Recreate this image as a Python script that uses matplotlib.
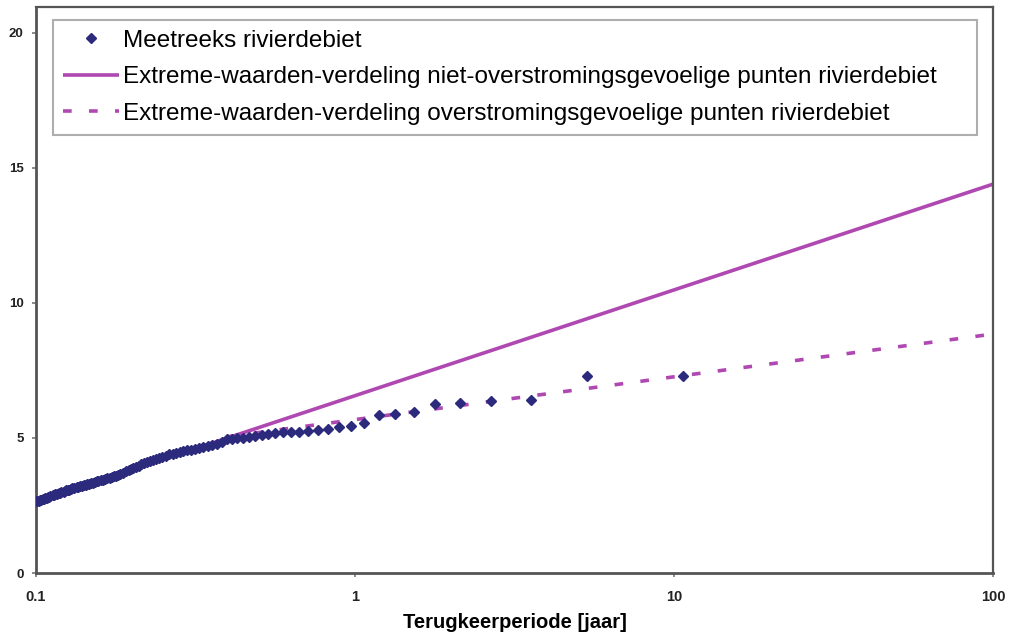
import matplotlib
matplotlib.use("Agg")
import matplotlib.pyplot as plt
from matplotlib.ticker import FixedLocator, NullLocator, FixedFormatter

plt.rcParams['font.family'] = ['Liberation Sans', 'DejaVu Sans']

# gemeten afvoer, gesorteerd op rang (terugkeerperiode in jaren)
terugkeer = [10.7, 5.35, 3.567, 2.675, 2.14, 1.783, 1.529, 1.338, 1.189, 1.07,
             0.973, 0.892, 0.823, 0.764, 0.713, 0.669, 0.629, 0.594, 0.563, 0.535,
             0.510, 0.486, 0.465, 0.446, 0.428, 0.412, 0.396, 0.382, 0.369, 0.357,
             0.345, 0.334, 0.324, 0.315, 0.306, 0.297, 0.289, 0.282, 0.274, 0.268,
             0.261, 0.255, 0.249, 0.243, 0.238, 0.233, 0.228, 0.223, 0.218, 0.214,
             0.210, 0.206, 0.202, 0.198, 0.195, 0.191, 0.188, 0.184, 0.181, 0.178,
             0.175, 0.173, 0.170, 0.167, 0.165, 0.162, 0.160, 0.157, 0.155, 0.153,
             0.151, 0.149, 0.147, 0.145, 0.143, 0.141, 0.139, 0.137, 0.135, 0.134,
             0.132, 0.130, 0.129, 0.127, 0.126, 0.124, 0.123, 0.122, 0.120, 0.119,
             0.118, 0.116, 0.115, 0.114, 0.113, 0.111, 0.110, 0.109, 0.108, 0.107,
             0.106, 0.105, 0.104, 0.103, 0.102, 0.101, 0.100]
debiet = [7.30, 7.30, 6.41, 6.37, 6.30, 6.26, 5.96, 5.89, 5.85, 5.54,
          5.43, 5.39, 5.35, 5.29, 5.27, 5.24, 5.22, 5.21, 5.19, 5.15,
          5.11, 5.06, 5.02, 5.00, 4.99, 4.97, 4.95, 4.85, 4.76, 4.74,
          4.71, 4.68, 4.64, 4.58, 4.56, 4.54, 4.51, 4.49, 4.46, 4.42,
          4.39, 4.35, 4.30, 4.26, 4.22, 4.19, 4.15, 4.11, 4.06, 4.02,
          3.98, 3.93, 3.88, 3.84, 3.80, 3.76, 3.71, 3.67, 3.64, 3.61,
          3.58, 3.55, 3.53, 3.50, 3.48, 3.46, 3.43, 3.41, 3.39, 3.37,
          3.35, 3.33, 3.31, 3.29, 3.27, 3.25, 3.23, 3.21, 3.19, 3.17,
          3.15, 3.13, 3.11, 3.09, 3.08, 3.06, 3.03, 3.01, 2.99, 2.97,
          2.95, 2.93, 2.91, 2.89, 2.87, 2.85, 2.82, 2.80, 2.78, 2.76,
          2.74, 2.73, 2.71, 2.70, 2.68, 2.67, 2.65]

# extreme-waarden-verdelingen
t_niet = [0.1, 100]
q_niet = [2.65, 14.4]
t_wel = [0.4, 100]
q_wel = [5.05, 8.85]

x_ticks = [0.1, 1, 10, 100]
x_labels = ['0.1', '1', '10', '100']
y_ticks = [0, 5, 10, 15, 20]

paars = '#B048B2'
blauw = '#2B2A7C'

fig = plt.figure(figsize=(10.13, 6.35), dpi=100)
ax = fig.add_axes([36 / 1013, 1 - 573 / 635, (993 - 36) / 1013, (573 - 7) / 635])

ax.plot(t_niet, q_niet, color=paars, lw=2.6, solid_capstyle='butt', zorder=2,
        label='Extreme-waarden-verdeling niet-overstromingsgevoelige punten rivierdebiet')
ax.plot(t_wel, q_wel, color=paars, lw=2.6, dashes=(2.4, 4.8), zorder=2,
        label='Extreme-waarden-verdeling overstromingsgevoelige punten rivierdebiet')
ax.plot(terugkeer, debiet, ls='none', marker='D', ms=5.2, color=blauw, mec=blauw,
        zorder=3, label='Meetreeks rivierdebiet')

ax.set_xscale('log')
ax.set_xlim(0.1, 100)
ax.set_ylim(0, 20.96)
ax.xaxis.set_major_locator(FixedLocator(x_ticks))
ax.xaxis.set_major_formatter(FixedFormatter(x_labels))
ax.xaxis.set_minor_locator(NullLocator())
ax.set_yticks(y_ticks)
ax.yaxis.set_minor_locator(NullLocator())

for side in ['left', 'bottom']:
    ax.spines[side].set_color('#555555')
    ax.spines[side].set_linewidth(2.0)
for side in ['top', 'right']:
    ax.spines[side].set_color('#555555')
    ax.spines[side].set_linewidth(1.6)

ax.tick_params(axis='both', direction='out', length=3, width=1.2, color='#777777',
               labelcolor='#222222')
ax.tick_params(axis='x', pad=9, labelsize=10.5)
ax.tick_params(axis='y', pad=6, labelsize=9.5)
for lbl in ax.get_xticklabels() + ax.get_yticklabels():
    lbl.set_fontweight('bold')

ax.set_xlabel('Terugkeerperiode [jaar]', fontsize=14.5, fontweight='bold', labelpad=7)

# legenda over de volle breedte van het kader
handles, labels = ax.get_legend_handles_labels()
order = [2, 0, 1]
leg = ax.legend([handles[i] for i in order], [labels[i] for i in order],
                loc='upper left',
                bbox_to_anchor=(53 / 1013, 1 - 134 / 635, (977 - 53) / 1013, 114 / 635),
                bbox_transform=fig.transFigure, mode='expand', fontsize=17.5,
                frameon=True, fancybox=False, borderpad=0.4, labelspacing=0.6,
                handlelength=2.3, handletextpad=0.2, borderaxespad=0)
leg.get_frame().set_edgecolor('#9A9A9A')
leg.get_frame().set_linewidth(1.5)

fig.savefig('out.png', dpi=100, facecolor='white')
